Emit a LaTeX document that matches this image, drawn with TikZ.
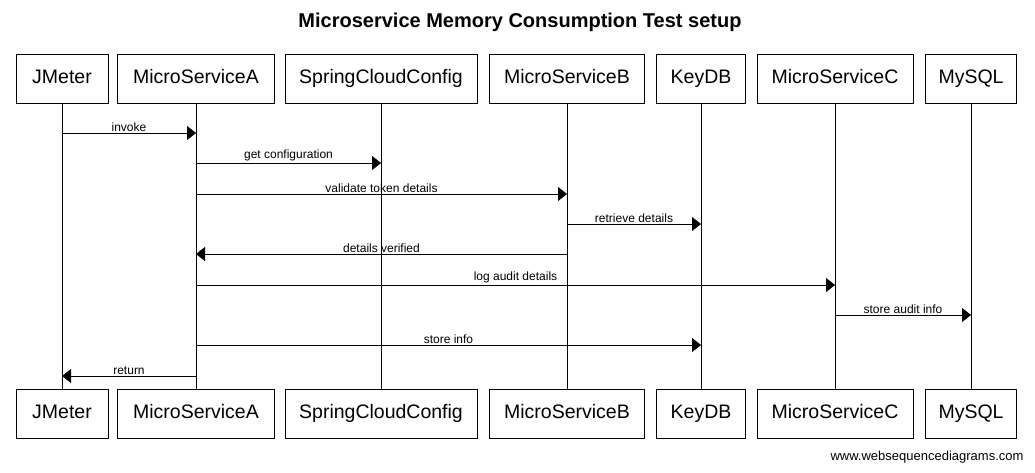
\documentclass[tikz,border=0pt]{standalone}
\usepackage{fontspec}
\setmainfont{Liberation Sans}
\usetikzlibrary{arrows.meta,positioning}
\begin{document}
\begin{tikzpicture}[x=1pt,y=-1pt,
  actor/.style={draw, thick, minimum height=49pt, inner sep=0pt, text height=14pt, text depth=4pt, font=\fontsize{19.5}{22}\selectfont},
  life/.style={draw, thin},
  msg/.style={draw, thin, -{Triangle[length=9pt,width=14pt]}},
  lbl/.style={font=\fontsize{12}{14}\selectfont, above, inner sep=1.5pt}]
\useasboundingbox (0,0) rectangle (1035,472);
\node[font=\bfseries\fontsize{20}{23}\selectfont] (title) at (520,22) {Microservice Memory Consumption Test setup};
% participants, top and bottom
\foreach \n/\t/\x/\w in {jm/JMeter/62/92, msa/MicroServiceA/196/157, scc/SpringCloudConfig/381/192,
  msb/MicroServiceB/567/155, kdb/KeyDB/701/89, msc/MicroServiceC/835/156, sql/MySQL/971/91}{
  \node[actor, minimum width=\w pt] (\n) at (\x,78.5) {\t};
  \node[actor, minimum width=\w pt] (\n b) at (\x,413.5) {\t};
  \draw[life] (\n) -- (\n b);
}
% message rows
\foreach \m/\y in {m1/133,m2/163,m3/194,m4/224,m5/254,m6/285,m7/315,m8/345,m9/376}{
  \coordinate (\m) at (0,\y);
}
\draw[msg] (jm |- m1) -- node[lbl]{invoke} (msa |- m1);
\draw[msg] (msa |- m2) -- node[lbl]{get configuration} (scc |- m2);
\draw[msg] (msa |- m3) -- node[lbl]{validate token details} (msb |- m3);
\draw[msg] (msb |- m4) -- node[lbl]{retrieve details} (kdb |- m4);
\draw[msg] (msb |- m5) -- node[lbl]{details verified} (msa |- m5);
\draw[msg] (msa |- m6) -- node[lbl]{log audit details} (msc |- m6);
\draw[msg] (msc |- m7) -- node[lbl]{store audit info} (sql |- m7);
\draw[msg] (msa |- m8) -- node[lbl]{store info} (kdb |- m8);
\draw[msg] (msa |- m9) -- node[lbl]{return} (jm |- m9);
\node[anchor=east, font=\fontsize{13}{15}\selectfont] (site) at (1027,457) {www.websequencediagrams.com};
\end{tikzpicture}
\end{document}
